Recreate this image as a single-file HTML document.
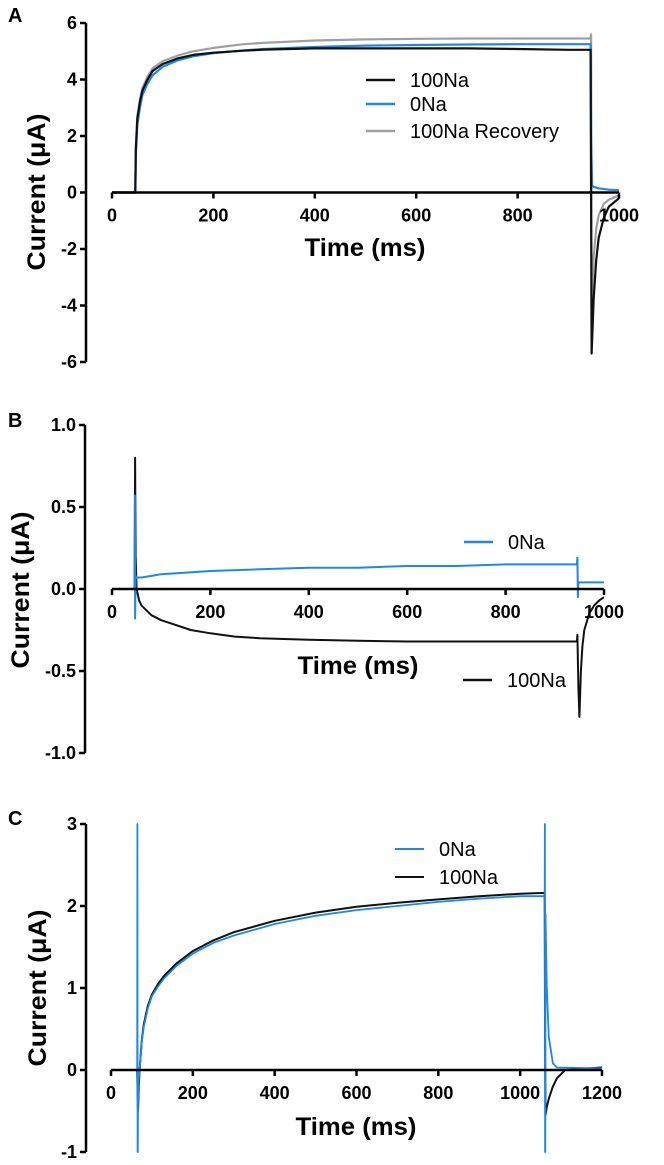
<!DOCTYPE html>
<html><head><meta charset="utf-8"><style>
body{margin:0;background:#fff}
svg{display:block;font-family:"Liberation Sans",sans-serif}
</style></head><body>
<svg id="fig" width="664" height="1165" viewBox="0 0 664 1165"></svg>
<script>
// ---- Panel A data ----
const aTicksX=[0,200,400,600,800,1000];
const aTicksY=[-6,-4,-2,0,2,4,6];
const aBlackT=[0,46,47,50,55,60,70,80,100,130,160,200,260,300,400,500,600,700,800,900,944,946,948,950,955,960,970,980,1000];
const aBlackV=[0,0,1.5,2.6,3.2,3.6,4.0,4.3,4.55,4.75,4.87,4.95,5.02,5.06,5.1,5.1,5.1,5.1,5.08,5.05,5.05,-5.7,-4.8,-3.8,-2.4,-1.6,-0.9,-0.5,-0.2];
const aBlueT=[0,46,47,50,55,60,70,80,100,130,160,200,260,300,400,500,600,700,800,900,944,945,947,950,960,980,1000];
const aBlueV=[0,0,1.3,2.4,3.0,3.45,3.85,4.15,4.45,4.68,4.82,4.93,5.03,5.08,5.15,5.2,5.22,5.24,5.25,5.25,5.25,2.0,0.25,0.2,0.15,0.1,0.08];
const aGrayT=[0,46,47,50,55,60,70,80,100,130,160,200,260,300,400,500,600,700,800,900,944,945,946,948,950,955,960,970,980,1000];
const aGrayV=[0,0,1.6,2.7,3.3,3.7,4.1,4.4,4.65,4.85,5.0,5.12,5.25,5.3,5.38,5.42,5.44,5.45,5.45,5.45,5.45,5.6,-4.5,-3.2,-2.3,-1.3,-0.8,-0.4,-0.25,-0.1];
// ---- Panel B data ----
const bTicksX=[0,200,400,600,800,1000];
const bTicksY=["-1.0","-0.5","0.0","0.5","1.0"];
const bBlackT=[0,46,47,48,50,55,60,70,80,100,130,160,200,250,300,400,500,600,700,800,900,945,946,948,950,953,956,960,970,980,990,1000];
const bBlackV=[0,0,0.8,0.2,0.0,-0.07,-0.1,-0.13,-0.16,-0.19,-0.22,-0.25,-0.27,-0.29,-0.3,-0.31,-0.315,-0.32,-0.32,-0.32,-0.32,-0.32,-0.28,-0.6,-0.78,-0.5,-0.35,-0.25,-0.15,-0.1,-0.07,-0.05];
const bBlueT=[0,46,46.5,47,48,50,60,80,100,150,200,300,400,500,600,700,800,900,945,946,947,948,950,1000];
const bBlueV=[0,0,0.57,-0.18,0.08,0.07,0.07,0.08,0.09,0.1,0.11,0.12,0.13,0.13,0.14,0.14,0.15,0.15,0.15,0.19,-0.05,0.04,0.04,0.04];
// ---- Panel C data ----
const cTicksX=[0,200,400,600,800,1000,1200];
const cTicksY=[-1,0,1,2,3];
const cBlackT=[0,64,66,68,70,75,80,90,100,115,130,160,200,250,300,400,500,600,700,800,900,1000,1060,1061,1062,1065,1070,1080,1090,1100,1110,1200];
const cBlackV=[0,0,-0.5,-0.2,0.0,0.35,0.55,0.78,0.92,1.05,1.15,1.3,1.45,1.58,1.68,1.82,1.92,1.99,2.04,2.08,2.12,2.15,2.16,0.2,-0.55,-0.45,-0.35,-0.2,-0.1,-0.05,0,0.03];
const cBlueT=[0,64,64.5,65,65.5,66,68,70,75,80,90,100,115,130,160,200,250,300,400,500,600,700,800,900,1000,1060,1060.5,1061,1061.5,1062,1065,1070,1080,1090,1200];
const cBlueV=[0,0,3,-1,-1,-0.4,-0.1,0.0,0.33,0.52,0.75,0.9,1.02,1.12,1.27,1.42,1.55,1.64,1.78,1.88,1.95,2.0,2.05,2.09,2.12,2.12,3,-1,-1,1.9,1.0,0.4,0.08,0.03,0.02];

const NS="http://www.w3.org/2000/svg";
const svg=document.getElementById('fig');
function mk(tag,attrs,parent){const e=document.createElementNS(NS,tag);for(const k in attrs)e.setAttribute(k,attrs[k]);(parent||svg).appendChild(e);return e;}

function panel(cfg){
  const g=mk('g',{});
  
  
  const sx=t=>cfg.x0+(t-cfg.xmin)/(cfg.xmax-cfg.xmin)*(cfg.x1-cfg.x0);
  const sy=v=>cfg.y0+(v-cfg.ymin)/(cfg.ymax-cfg.ymin)*(cfg.y1-cfg.y0);
  const L=mk('text',{x:8,y:cfg.letterY,'font-size':20,'font-weight':'bold'},g);L.textContent=cfg.letter;
  
  
  cfg.series.forEach(s=>{
    const p=s.t.map((t,i)=>sx(t).toFixed(1)+','+sy(s.v[i]).toFixed(1)).join(' ');
    const pl=mk('polyline',{points:p,fill:'none',stroke:s.color,'stroke-width':s.w||2.2,'stroke-linejoin':'round'},g);
    
    
  });
  const ya=mk('g',{},g);
  
  
  mk('line',{x1:cfg.ax,x2:cfg.ax,y1:sy(cfg.ymin),y2:sy(cfg.ymax),stroke:'#000','stroke-width':2.5},ya);
  cfg.ticksY.forEach(tv=>{
    const y=sy(parseFloat(tv));
    mk('line',{x1:cfg.ax-6,x2:cfg.ax,y1:y,y2:y,stroke:'#000','stroke-width':2.5},ya);
    const t=mk('text',{x:cfg.ax-9,y:y+6,'font-size':18,'font-weight':'bold','text-anchor':'end'},ya);t.textContent=String(tv);
    
    
  });
  const xa=mk('g',{},g);
  
  
  const y0=sy(0);
  mk('line',{x1:sx(cfg.xmin),x2:sx(cfg.xmax),y1:y0,y2:y0,stroke:'#000','stroke-width':2.5},xa);
  cfg.ticksX.forEach(tv=>{
    const x=sx(tv);
    mk('line',{x1:x,x2:x,y1:y0,y2:y0+6,stroke:'#000','stroke-width':2.5},xa);
    const t=mk('text',{x:x,y:y0+29,'font-size':18,'font-weight':'bold','text-anchor':'middle'},xa);t.textContent=String(tv);
    
    
  });
  const xt=mk('text',{x:cfg.xtX,y:cfg.xtY,'font-size':25,'font-weight':'bold','text-anchor':'middle',textLength:121,lengthAdjust:'spacingAndGlyphs'},g);xt.textContent='Time (ms)';
  
  
  const yt=mk('text',{x:0,y:0,'font-size':25,'font-weight':'bold','text-anchor':'middle',textLength:157,lengthAdjust:'spacingAndGlyphs',transform:`translate(${cfg.ytX},${cfg.ytY}) rotate(-90)`},g);yt.textContent='Current (\u03bcA)';
  
  
  cfg.legend.forEach(l=>{
    const lg=mk('g',{},g);
    
    
    mk('line',{x1:l.x,x2:l.x+29,y1:l.y,y2:l.y,stroke:l.color,'stroke-width':l.w||2.5},lg);
    const t=mk('text',{x:l.x+44,y:l.y+7,'font-size':20},lg);t.textContent=l.label;
  });
}

panel({name:'panel-a',letter:'A',letterY:22,xmin:0,xmax:1000,x0:112,x1:619,ymin:-6,ymax:6,y0:362,y1:23,ax:86,
  ticksX:aTicksX,ticksY:aTicksY,xtX:365,xtY:256,ytX:45,ytY:192,
  series:[{name:'series-100na-recovery',t:aGrayT,v:aGrayV,color:'#a0a0a0'},{name:'series-0na',t:aBlueT,v:aBlueV,color:'#1e88e5'},{name:'series-100na',t:aBlackT,v:aBlackV,color:'#111'}],
  legend:[{x:366,y:80,color:'#111',label:'100Na'},{x:366,y:104,color:'#1e88e5',label:'0Na'},{x:366,y:131,color:'#a0a0a0',label:'100Na Recovery'}]});

panel({name:'panel-b',letter:'B',letterY:427,xmin:0,xmax:1000,x0:112,x1:604,ymin:-1,ymax:1,y0:753,y1:425,ax:85,
  ticksX:bTicksX,ticksY:bTicksY,xtX:358,xtY:674,ytX:29,ytY:590,
  series:[{name:'series-100na',t:bBlackT,v:bBlackV,color:'#111',w:2},{name:'series-0na',t:bBlueT,v:bBlueV,color:'#1e88e5',w:2}],
  legend:[{x:464,y:542,color:'#1e88e5',label:'0Na'},{x:463,y:680,color:'#111',label:'100Na'}]});

panel({name:'panel-c',letter:'C',letterY:825,xmin:0,xmax:1200,x0:111,x1:602,ymin:-1,ymax:3,y0:1152,y1:824,ax:86,
  ticksX:cTicksX,ticksY:cTicksY,xtX:356,xtY:1135,ytX:46,ytY:988,
  series:[{name:'series-100na',t:cBlackT,v:cBlackV,color:'#111',w:2},{name:'series-0na',t:cBlueT,v:cBlueV,color:'#1e88e5',w:1.8}],
  legend:[{x:395,y:849,color:'#1e88e5',label:'0Na',w:2},{x:395,y:877,color:'#111',label:'100Na',w:2}]});
</script>
</body></html>
